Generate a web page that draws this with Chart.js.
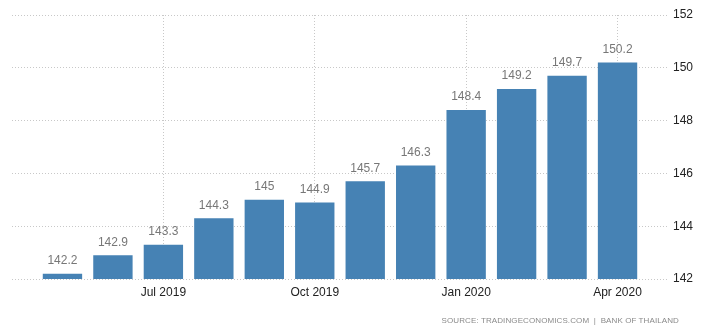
<!DOCTYPE html>
<html>
<head>
<meta charset="utf-8">
<script src="https://cdn.jsdelivr.net/npm/chart.js@4.4.1/dist/chart.umd.min.js"></script>
<style>
  html, body { margin: 0; padding: 0; background: #fff; }
  #wrap { position: relative; width: 710px; height: 333px; }
  #source {
    position: absolute; right: 31px; top: 316px;
    font: 8px "Liberation Sans", Arial, sans-serif;
    color: #8a8a8a; letter-spacing: 0.1px; white-space: pre;
  }
</style>
</head>
<body>
<div id="wrap">
  <canvas id="chart" width="710" height="333"></canvas>
  <div id="source">SOURCE: TRADINGECONOMICS.COM  |  BANK OF THAILAND</div>
</div>
<script>
  // monthly index, May 2019 .. Apr 2020
  const months = ["May 2019", "Jun 2019", "Jul 2019", "Aug 2019", "Sep 2019", "Oct 2019",
    "Nov 2019", "Dec 2019", "Jan 2020", "Feb 2020", "Mar 2020", "Apr 2020"];
  const values = [142.2, 142.9, 143.3, 144.3, 145, 144.9, 145.7, 146.3, 148.4, 149.2, 149.7, 150.2];
  const labeledMonths = ["Jul 2019", "Oct 2019", "Jan 2020", "Apr 2020"];
  const yTicks = [142, 144, 146, 148, 150, 152];

  const font = "Liberation Sans, Arial, sans-serif";

  const valueLabels = {
    id: "valueLabels",
    afterDatasetsDraw(chart) {
      const ctx = chart.ctx;
      const meta = chart.getDatasetMeta(0);
      ctx.save();
      ctx.font = "12px " + font;
      ctx.fillStyle = "#777";
      ctx.textAlign = "center";
      ctx.textBaseline = "bottom";
      meta.data.forEach((bar, i) => {
        ctx.fillText(String(values[i]), bar.x, bar.y - 7);
      });
      ctx.restore();
    }
  };

  new Chart(document.getElementById("chart"), {
    type: "bar",
    data: {
      datasets: [{
        data: values.map((v, i) => ({ x: i, y: v })),
        backgroundColor: "#4682b4",
        borderWidth: 0,
        barPercentage: 0.78,
        categoryPercentage: 1
      }]
    },
    options: {
      responsive: false,
      animation: false,
      layout: { padding: { left: 12, top: 15, right: 0, bottom: 0 } },
      plugins: { legend: { display: false }, tooltip: { enabled: false } },
      scales: {
        x: {
          type: "linear",
          min: -1,
          max: 12,
          offset: false,
          afterBuildTicks: (axis) => {
            axis.ticks = labeledMonths.map((m) => ({ value: months.indexOf(m) }));
          },
          afterFit: (axis) => { axis.height = 54; },
          ticks: {
            color: "#222",
            font: { size: 12, family: font },
            padding: 6,
            maxRotation: 0,
            autoSkip: false,
            callback: (v) => months[v]
          },
          grid: { color: "#c8c8c8", drawTicks: false, offset: false },
          border: { display: false, dash: [1, 2] }
        },
        y: {
          position: "right",
          min: 142,
          max: 152,
          afterBuildTicks: (axis) => {
            axis.ticks = yTicks.map((v) => ({ value: v }));
          },
          afterFit: (axis) => { axis.width = 42; },
          ticks: {
            color: "#222",
            font: { size: 12, family: font },
            padding: 5
          },
          grid: { color: "#c8c8c8", drawTicks: false },
          border: { display: false, dash: [1, 2] }
        }
      }
    },
    plugins: [valueLabels]
  });
</script>
</body>
</html>
